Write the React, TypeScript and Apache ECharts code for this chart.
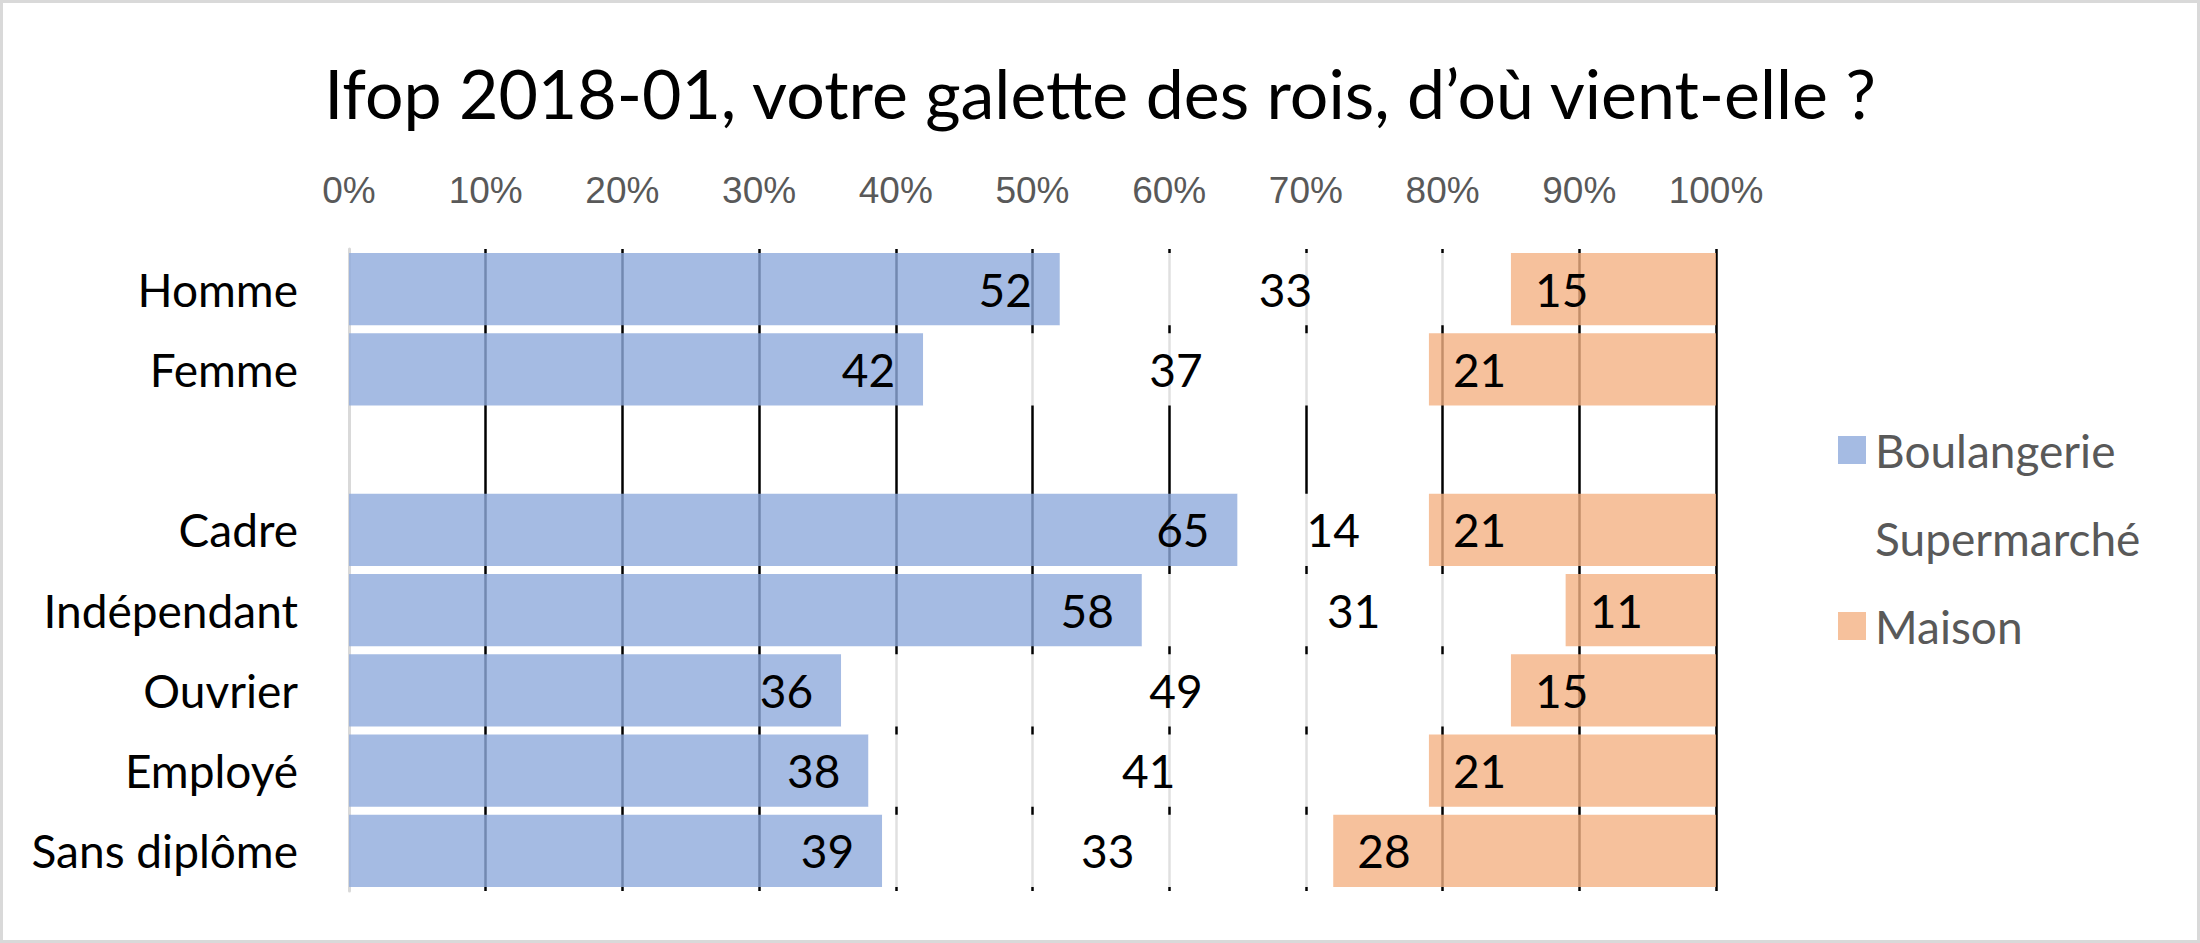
import React, { useEffect, useRef } from "react";
import * as echarts from "echarts";

const categories = ["Homme", "Femme", "", "Cadre", "Indépendant", "Ouvrier", "Employé", "Sans diplôme"];
const boulangerie = [52, 42, null, 65, 58, 36, 38, 39];
const supermarche = [33, 37, null, 14, 31, 49, 41, 33];
const maison = [15, 21, null, 21, 11, 15, 21, 28];
const seriesNames = ["Boulangerie", "Supermarché", "Maison"];
const titleText = "Ifop 2018-01, votre galette des rois, d’où vient-elle ?";

const FONT = "Lato";
const LABEL_SIZE = 46;

export default function App() {
  const ref = useRef<HTMLDivElement>(null);
  useEffect(() => {
    document.body.style.margin = "0";
    if (!ref.current) return;
    const chart = echarts.init(ref.current, null, { renderer: "svg" });
    const labelStyle = {
      show: true,
      color: "#000000",
      fontFamily: FONT,
      fontSize: LABEL_SIZE,
      formatter: (p: any) => (p.value == null ? "" : String(p.value)),
    };
    chart.setOption({
      animation: false,
      backgroundColor: "#ffffff",
      title: {
        text: titleText,
        left: "center",
        top: 58,
        padding: 0,
        textStyle: { fontFamily: FONT, fontSize: 68, fontWeight: "normal", color: "#000000" },
      },
      legend: {
        orient: "vertical",
        left: 1833,
        top: 421,
        icon: "rect",
        itemWidth: 28,
        itemHeight: 28,
        itemGap: 40,
        data: seriesNames,
        textStyle: { fontFamily: FONT, fontSize: 46, color: "#595959", lineHeight: 48, padding: [0, 0, 0, 4] },
      },
      graphic: [
        {
          type: "rect",
          shape: { x: 1.5, y: 1.5, width: 2197, height: 940 },
          style: { fill: "none", stroke: "#d9d9d9", lineWidth: 3 },
          silent: true,
        },
      ],
      grid: { left: 349, right: 484, top: 249, bottom: 52, containLabel: false },
      xAxis: {
        type: "value",
        position: "top",
        min: 0,
        max: 100,
        interval: 10,
        axisLine: { show: false },
        axisTick: { show: false },
        axisLabel: {
          formatter: "{value}%",
          color: "#595959",
          fontFamily: "Liberation Sans",
          fontSize: 37,
          margin: 40,
        },
        splitLine: { show: true, showMinLine: false, lineStyle: { color: "#000000", width: 2.5 } },
      },
      yAxis: {
        type: "category",
        data: categories,
        inverse: true,
        axisLine: { show: true, lineStyle: { color: "#d9d9d9", width: 3 } },
        axisTick: { show: false },
        axisLabel: { color: "#000000", fontFamily: FONT, fontSize: 46, margin: 51 },
        splitLine: { show: false },
      },
      series: [
        {
          name: seriesNames[0],
          type: "bar",
          stack: "total",
          data: boulangerie,
          barCategoryGap: "10%",
          itemStyle: { color: "rgba(143,170,220,0.8)" },
          label: { ...labelStyle, position: "insideRight", distance: 28 },
        },
        {
          name: seriesNames[1],
          type: "bar",
          stack: "total",
          data: supermarche,
          barCategoryGap: "10%",
          itemStyle: { color: "rgba(255,255,255,0.88)" },
          label: { ...labelStyle, position: "inside" },
        },
        {
          name: seriesNames[2],
          type: "bar",
          stack: "total",
          data: maison,
          barCategoryGap: "10%",
          itemStyle: { color: "rgba(244,177,131,0.8)" },
          label: { ...labelStyle, position: "insideLeft", distance: 24 },
        },
      ],
    });
    return () => chart.dispose();
  }, []);
  return <div ref={ref} style={{ width: 2200, height: 943 }} />;
}
